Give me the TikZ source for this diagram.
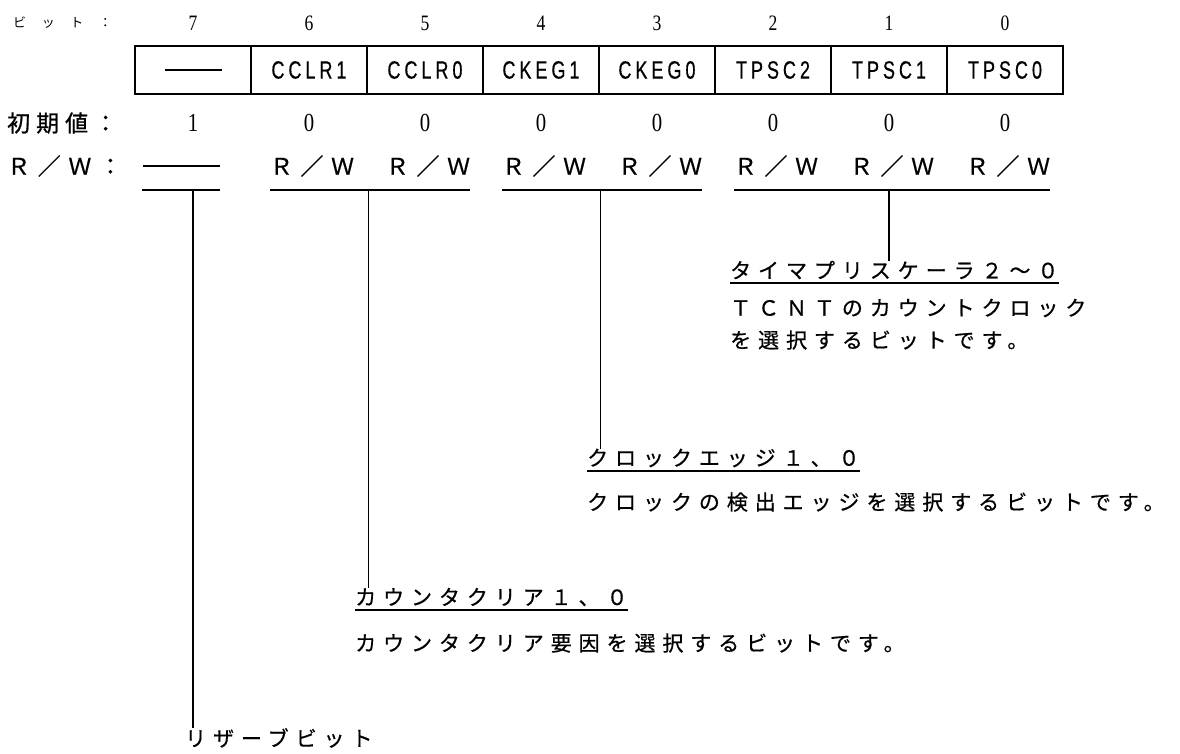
\documentclass[tikz,border=0pt]{standalone}
\usepackage{fontspec}
\usetikzlibrary{positioning,calc}
\newfontfamily\jpfont[LetterSpace=33,FakeBold=0.6]{Noto Sans CJK JP}
\newfontfamily\jpheadfont[LetterSpace=26,FakeBold=0.8]{Noto Sans CJK JP}
\newfontfamily\jpsmallfont[LetterSpace=120]{Noto Sans CJK JP}
\newfontfamily\regfont[FakeStretch=0.72,LetterSpace=16,FakeBold=0.5]{Liberation Sans}
\newfontfamily\numfont[FakeStretch=0.8]{Liberation Serif}

\begin{document}
\begin{tikzpicture}[x=1pt,y=-1pt,
  cell/.style={draw,line width=2.6pt,minimum width=116pt,minimum height=48pt,inner sep=0pt,
    font=\regfont\fontsize{25}{28}\selectfont},
  bitno/.style={inner sep=0pt,font=\numfont\fontsize{22}{24}\selectfont},
  initv/.style={inner sep=0pt,font=\numfont\fontsize{26}{28}\selectfont},
  rw/.style={inner sep=0pt,font=\jpfont\fontsize{23}{26}\selectfont},
  rowhead/.style={anchor=west,inner sep=0pt,font=\jpheadfont\fontsize{23}{26}\selectfont},
  title/.style={anchor=west,inner sep=0pt,font=\jpfont\fontsize{21}{24}\selectfont},
  desc/.style={anchor=west,inner sep=0pt,font=\jpfont\fontsize{21}{24}\selectfont},
  link/.style={line width=1.6pt},
  uline/.style={line width=2.2pt}]
\useasboundingbox (0,0) rectangle (1180,753);
% Register and its rows
\node[rowhead,font=\jpsmallfont\fontsize{13}{16}\selectfont] (bitlbl) at (13,23) {ビット：};
\node[rowhead] (initlbl) at (7,123) {初期値：};
\node[rowhead,font=\jpfont\fontsize{23}{26}\selectfont] (rwlbl) at (7,166) {Ｒ／Ｗ：};
\foreach \name [count=\i from 0] in {\rule{57pt}{1.2pt},CCLR1,CCLR0,CKEG1,CKEG0,TPSC2,TPSC1,TPSC0}{
  \pgfmathtruncatemacro\b{7-\i}
  \node[cell] (c\b) at (193+116*\i,70) {\name};
  \node[bitno] (n\b) at (193+116*\i,23) {\b};
}
\foreach \v [count=\i from 0] in {1,0,0,0,0,0,0,0}{
  \pgfmathtruncatemacro\b{7-\i}
  \node[initv] (v\b) at (193+116*\i,123) {\v};
}
\foreach \i in {1,...,7}{
  \pgfmathtruncatemacro\b{7-\i}
  \node[rw] (rw\b) at (196+116*\i,166) {Ｒ／Ｗ};
}
\node[inner sep=0pt] (rw7) at (181,166) {\rule{77pt}{1.2pt}};
\coordinate (ulrow) at (0,190);
\draw[uline] (rw7.west |- ulrow) -- (rw7.east |- ulrow);
\draw[uline] (rw6.west |- ulrow) -- (rw5.east |- ulrow);
\draw[uline] (rw4.west |- ulrow) -- (rw3.east |- ulrow);
\draw[uline] (rw2.west |- ulrow) -- (rw0.east |- ulrow);
% Bit descriptions
\node[title] (tpsc) at (730,270) {タイマプリスケーラ２〜０};
\node[desc] (tpsctxta) at (730,308) {ＴＣＮＴのカウントクロック};
\node[desc] (tpsctxtb) at (730,340) {を選択するビットです。};
\node[title] (ckeg) at (587,458) {クロックエッジ１、０};
\node[desc] (ckegtxt) at (587,502) {クロックの検出エッジを選択するビットです。};
\node[title] (cclr) at (355,597) {カウンタクリア１、０};
\node[desc] (cclrtxt) at (355,643) {カウンタクリア要因を選択するビットです。};
\node[desc] (rsv) at (185,738) {リザーブビット};
\foreach \t in {tpsc,ckeg,cclr}{
  \draw[uline] ([yshift=-13pt]\t.west) -- ([yshift=-13pt]\t.east);
}
\draw[link] (c7 |- ulrow) -- (c7 |- rsv.north);
\draw[link] (c6.east |- ulrow) -- (c6.east |- cclr.north);
\draw[link] (c4.east |- ulrow) -- (c4.east |- ckeg.north);
\draw[link] (c1 |- ulrow) -- (c1 |- tpsc.north);
\end{tikzpicture}
\end{document}
